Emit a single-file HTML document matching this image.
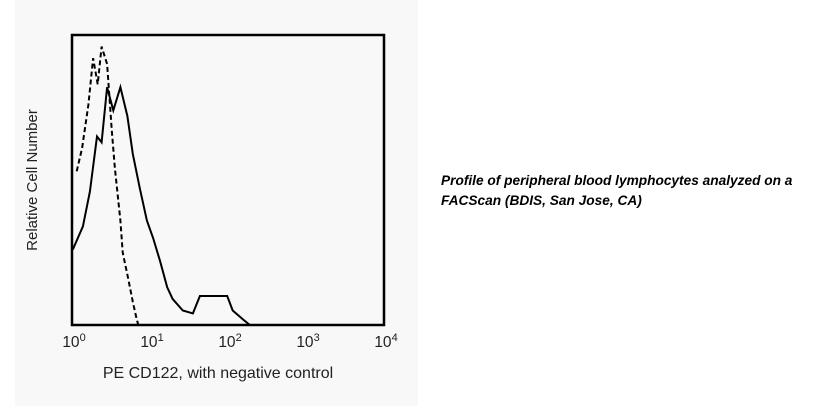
<!DOCTYPE html>
<html><head><meta charset="utf-8"><style>
body{margin:0;background:#fff;width:824px;height:409px;overflow:hidden;font-family:"Liberation Sans",sans-serif}
#panel{position:absolute;left:15px;top:0;width:403px;height:406px;background:#f8f8f8}
#note{position:absolute;left:441px;top:171px;font-size:13.7px;font-weight:bold;font-style:italic;line-height:20px;color:#000;width:380px;white-space:nowrap}
svg{position:absolute;left:0;top:0}
</style></head><body>
<div id="panel"></div>
<svg width="824" height="409" font-family="Liberation Sans, sans-serif">
<g id="marks"></g>
<rect x="72" y="35" width="312" height="290" fill="none" stroke="#000" stroke-width="2.5"/>
<g id="ticks"></g>
<text x="218" y="378" text-anchor="middle" font-size="16" fill="#222">PE CD122, with negative control</text>
<text transform="translate(37,180) rotate(-90)" text-anchor="middle" font-size="15" fill="#222">Relative Cell Number</text>
</svg>
<div id="note">Profile of peripheral blood lymphocytes analyzed on a<br>FACScan (BDIS, San Jose, CA)</div>
<script>
const tickExps=[0,1,2,3,4];
const solidLog=[0.01,0.14,0.23,0.32,0.38,0.45,0.53,0.62,0.71,0.78,0.87,0.96,1.04,1.13,1.22,1.29,1.42,1.55,1.64,1.81,1.99,2.06,2.19,2.28];
const solidVal=[0.26,0.34,0.46,0.65,0.63,0.82,0.74,0.82,0.72,0.59,0.47,0.36,0.30,0.22,0.13,0.09,0.05,0.04,0.10,0.10,0.10,0.05,0.02,0.0];
const dashLog=[0.06,0.13,0.21,0.27,0.33,0.38,0.45,0.51,0.55,0.62,0.65,0.72,0.78,0.83,0.85];
const dashVal=[0.53,0.61,0.76,0.92,0.83,0.96,0.90,0.67,0.54,0.36,0.25,0.16,0.08,0.02,0.0];
const X0=72,X1=384,Y0=325,Y1=35;
const xs=v=>X0+v/4*(X1-X0), ys=v=>Y0-v*(Y0-Y1);
const ns="http://www.w3.org/2000/svg";
const marks=document.getElementById('marks');
function line(lx,vy,dash,name){
  const p=document.createElementNS(ns,'polyline');
  p.setAttribute('points',lx.map((l,i)=>xs(l).toFixed(1)+','+ys(vy[i]).toFixed(1)).join(' '));
  p.setAttribute('fill','none');p.setAttribute('stroke','#000');p.setAttribute('stroke-width','2');
  if(dash)p.setAttribute('stroke-dasharray','5,3');
  
  
  marks.appendChild(p);
}
line(dashLog,dashVal,true,'negative-control-series');
line(solidLog,solidVal,false,'cd122-series');
const tg=document.getElementById('ticks');
tickExps.forEach(e=>{
  const t=document.createElementNS(ns,'text');
  t.setAttribute('x',xs(e)+2);t.setAttribute('y',347);t.setAttribute('text-anchor','middle');
  t.setAttribute('font-size','15.5');t.setAttribute('fill','#222');
  t.innerHTML='10<tspan dy="-6" font-size="11">'+e+'</tspan>';
  
  
  tg.appendChild(t);
});
</script>
</body></html>
